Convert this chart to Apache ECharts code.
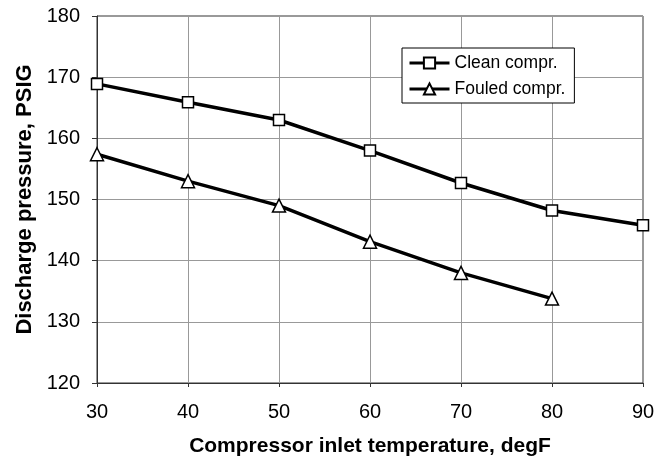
<!DOCTYPE html>
<html><head><meta charset="utf-8">
<script src="https://cdn.jsdelivr.net/npm/echarts@6/dist/echarts.min.js"></script>
<style>html,body{margin:0;padding:0;background:#fff}#c{width:665px;height:462px}</style>
</head><body><div id="c"></div>
<script>
const temps = [30, 40, 50, 60, 70, 80, 90];
const cleanVals = [168.9, 165.9, 163.0, 158.0, 152.7, 148.2, 145.8];
const fouledVals = [157.4, 153.0, 149.0, 143.1, 138.0, 133.8];
const seriesNames = ['Clean compr.', 'Fouled compr.'];
const xTitle = 'Compressor inlet temperature, degF';
const yTitle = 'Discharge pressure, PSIG';

const font = 'Liberation Sans, Arial, sans-serif';
const chart = echarts.init(document.getElementById('c'));
const mk = (vals) => vals.map((v, i) => [temps[i], v]);
chart.setOption({
  animation: false,
  grid: { left: 97, right: 22, top: 16, bottom: 79, show: true, borderColor: '#333', borderWidth: 1 },
  xAxis: {
    type: 'value', min: 30, max: 90, interval: 10,
    name: xTitle, nameLocation: 'middle', nameGap: 53,
    nameTextStyle: { fontFamily: font, fontSize: 21, fontWeight: 'bold', color: '#000' },
    axisLine: { show: true, lineStyle: { color: '#333' } },
    axisTick: { show: true, length: 4, lineStyle: { color: '#333' } },
    axisLabel: { fontFamily: font, fontSize: 20, color: '#000', margin: 19 },
    splitLine: { show: true, lineStyle: { color: '#999', width: 1 } }
  },
  yAxis: {
    type: 'value', min: 120, max: 180, interval: 10,
    name: yTitle, nameLocation: 'middle', nameGap: 50,
    nameTextStyle: { fontFamily: font, fontSize: 22, fontWeight: 'bold', color: '#000' },
    axisLine: { show: true, lineStyle: { color: '#333' } },
    axisTick: { show: true, length: 5, lineStyle: { color: '#333' } },
    axisLabel: { fontFamily: font, fontSize: 20, color: '#000', margin: 17 },
    splitLine: { show: true, lineStyle: { color: '#999', width: 1 } }
  },
  legend: {
    orient: 'vertical', left: 402, top: 48,
    backgroundColor: '#fff', borderColor: '#000', borderWidth: 1,
    padding: [6, 9, 5, 6], itemGap: 8, itemWidth: 40, itemHeight: 14,
    lineStyle: { width: 3, color: '#000' },
    textStyle: { fontFamily: font, fontSize: 17.5, color: '#000' },
    data: seriesNames
  },
  series: [
    { name: seriesNames[0], type: 'line', data: mk(cleanVals),
      symbol: 'rect', symbolSize: 11,
      lineStyle: { color: '#000', width: 3.5 },
      itemStyle: { color: '#fff', borderColor: '#000', borderWidth: 1.5 } },
    { name: seriesNames[1], type: 'line', data: mk(fouledVals),
      symbol: 'triangle', symbolSize: 13,
      lineStyle: { color: '#000', width: 3.5 },
      itemStyle: { color: '#fff', borderColor: '#000', borderWidth: 1.5 } }
  ]
});
</script></body></html>
